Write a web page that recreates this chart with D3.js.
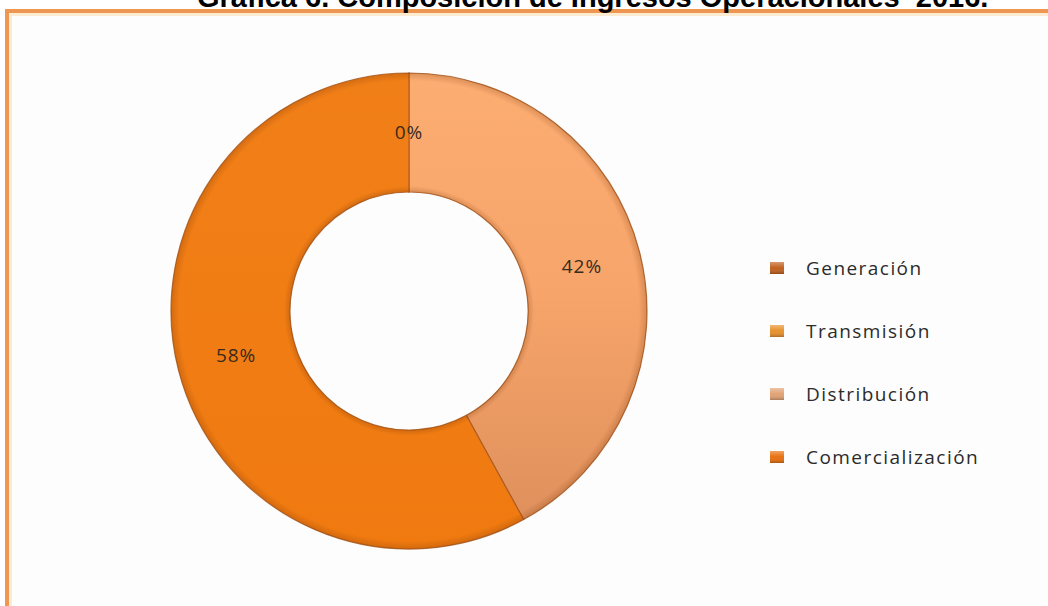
<!DOCTYPE html>
<html>
<head>
<meta charset="utf-8">
<script src="https://cdn.jsdelivr.net/npm/d3@7"></script>
<style>
  html, body { margin: 0; padding: 0; background: #fff; overflow: hidden; }
  svg { display: block; }
</style>
</head>
<body>
<div id="chart"></div>
<script>
// datos de la grafica
var categorias = ["Generación", "Transmisión", "Distribución", "Comercialización"];
var valores = [0, 0, 42, 58];
var etiquetas = ["0%", "0%", "42%", "58%"];
var titulo = "Gráfica 6. Composición de Ingresos Operacionales  2016.";

var width = 1048,
    height = 606;

var cx = 409, cy = 311,
    rOut = 238, rIn = 119;

// colores (relleno de sectores y marcadores de leyenda)
var colorSector = d3.scaleOrdinal()
    .domain(categorias)
    .range(["#c5631d", "#e88f2e", "url(#gradDist)", "url(#gradCom)"]);
var colorLeyenda = d3.scaleOrdinal()
    .domain(categorias)
    .range(["#c0611e", "#e8902c", "#e2a274", "#e8700f"]);

const svg = d3.select("#chart")
    .append("svg")
    .attr("width", width)
    .attr("height", height);

var defs = svg.append("defs");

// los degradados se usan dentro del grupo trasladado al centro del anillo
var gDist = defs.append("linearGradient")
    .attr("id", "gradDist")
    .attr("gradientUnits", "userSpaceOnUse")
    .attr("x1", 0).attr("y1", -rOut).attr("x2", 0).attr("y2", rOut);
gDist.append("stop").attr("offset", "0").attr("stop-color", "#fcad72");
gDist.append("stop").attr("offset", "0.45").attr("stop-color", "#f7a56a");
gDist.append("stop").attr("offset", "1").attr("stop-color", "#dc8d5a");

var gCom = defs.append("linearGradient")
    .attr("id", "gradCom")
    .attr("gradientUnits", "userSpaceOnUse")
    .attr("x1", 0).attr("y1", -rOut).attr("x2", 0).attr("y2", rOut);
gCom.append("stop").attr("offset", "0").attr("stop-color", "#f17f18");
gCom.append("stop").attr("offset", "1").attr("stop-color", "#f07a10");

// bisel: oscurece los bordes del anillo
var gBisel = defs.append("radialGradient")
    .attr("id", "gradBisel")
    .attr("gradientUnits", "userSpaceOnUse")
    .attr("cx", 0).attr("cy", 0).attr("r", rOut);
[[0, 0.0], [rIn / rOut, 0.22], [(rIn + 6) / rOut, 0.0], [(rOut - 8) / rOut, 0.0], [1, 0.22]]
    .forEach(function(s){
        gBisel.append("stop")
            .attr("offset", s[0])
            .attr("stop-color", "#6b2c00")
            .attr("stop-opacity", s[1]);
    });

var marcoGrad = defs.append("linearGradient")
    .attr("id", "gradLey")
    .attr("x1", 0).attr("y1", 0).attr("x2", 0).attr("y2", 1);
marcoGrad.append("stop").attr("offset", "0").attr("stop-color", "#fff").attr("stop-opacity", 0.35);
marcoGrad.append("stop").attr("offset", "0.5").attr("stop-color", "#fff").attr("stop-opacity", 0);
marcoGrad.append("stop").attr("offset", "1").attr("stop-color", "#000").attr("stop-opacity", 0.25);

// fondo y marco naranja
svg.append("rect")
    .attr("x", 7).attr("y", 11)
    .attr("width", width + 20).attr("height", height + 20)
    .attr("fill", "#fdfdfd")
    .attr("stroke", "#ee9752")
    .attr("stroke-width", 4);
svg.append("rect")
    .attr("x", 10.5).attr("y", 14.5)
    .attr("width", width + 20).attr("height", height + 20)
    .attr("fill", "none")
    .attr("stroke", "#fdebd2")
    .attr("stroke-width", 3);

// titulo (recortado en el borde superior)
svg.append("text")
    .attr("x", 197)
    .attr("y", 7)
    .attr("font-family", "'Liberation Sans', Arial, sans-serif")
    .attr("font-weight", "bold")
    .attr("font-size", 29)
    .attr("fill", "#000")
    .style("white-space", "pre")
    .text(titulo);

// anillo
var datos = categorias.map(function(c, i){
    return { cat: c, valor: valores[i], etiqueta: etiquetas[i] };
});

var pie = d3.pie()
    .sort(null)
    .value(function(d){ return d.valor; });

var arc = d3.arc()
    .innerRadius(rIn)
    .outerRadius(rOut);

var arcos = pie(datos);

var g = svg.append("g")
    .attr("transform", "translate(" + cx + "," + cy + ")");

g.selectAll("path.sector")
    .data(arcos)
    .enter()
    .append("path")
    .attr("class", "sector")
    .attr("d", arc)
    .attr("fill", function(d){ return colorSector(d.data.cat); })
    .attr("stroke", "#a8561c")
    .attr("stroke-opacity", 0.8)
    .attr("stroke-width", 1.2)
    .attr("stroke-linejoin", "round");

// sombra de bisel sobre el anillo completo
g.append("path")
    .attr("d", d3.arc().innerRadius(rIn).outerRadius(rOut).startAngle(0).endAngle(2 * Math.PI)())
    .attr("fill", "url(#gradBisel)")
    .style("pointer-events", "none");

// etiquetas de porcentaje (sin repetir las que caen en el mismo sitio)
var arcEtiq = d3.arc()
    .innerRadius((rIn + rOut) / 2)
    .outerRadius((rIn + rOut) / 2);
var vistos = {};
var etiqUnicas = arcos.filter(function(d){
    var c = arcEtiq.centroid(d).map(Math.round).join(",");
    if (vistos[c]) return false;
    vistos[c] = true;
    return true;
});

g.append("g")
    .selectAll("text")
    .data(etiqUnicas)
    .enter()
    .append("text")
    .attr("transform", function(d){ return "translate(" + arcEtiq.centroid(d) + ")"; })
    .attr("text-anchor", "middle")
    .attr("dy", "0.35em")
    .attr("font-family", "'Open Sans', 'DejaVu Sans', sans-serif")
    .attr("font-size", 19)
    .attr("letter-spacing", 1)
    .attr("fill", "#3a2a1c")
    .text(function(d){ return d.data.etiqueta; });

// leyenda
var yLey = d3.scalePoint()
    .domain(categorias)
    .range([268, 457]);

var ley = svg.append("g").attr("class", "leyenda");

var item = ley.selectAll("g")
    .data(categorias)
    .enter()
    .append("g")
    .attr("transform", function(d){ return "translate(777," + yLey(d) + ")"; });

item.append("rect")
    .attr("x", -7).attr("y", -6)
    .attr("width", 14).attr("height", 12)
    .attr("fill", function(d){ return colorLeyenda(d); });
item.append("rect")
    .attr("x", -7).attr("y", -6)
    .attr("width", 14).attr("height", 12)
    .attr("fill", "url(#gradLey)");

item.append("text")
    .attr("x", 29)
    .attr("dy", "0.35em")
    .attr("font-family", "'Open Sans', 'DejaVu Sans', sans-serif")
    .attr("font-size", 19)
    .attr("letter-spacing", 1.45)
    .attr("fill", "#2b2b2b")
    .text(function(d){ return d; });
</script>
</body>
</html>
